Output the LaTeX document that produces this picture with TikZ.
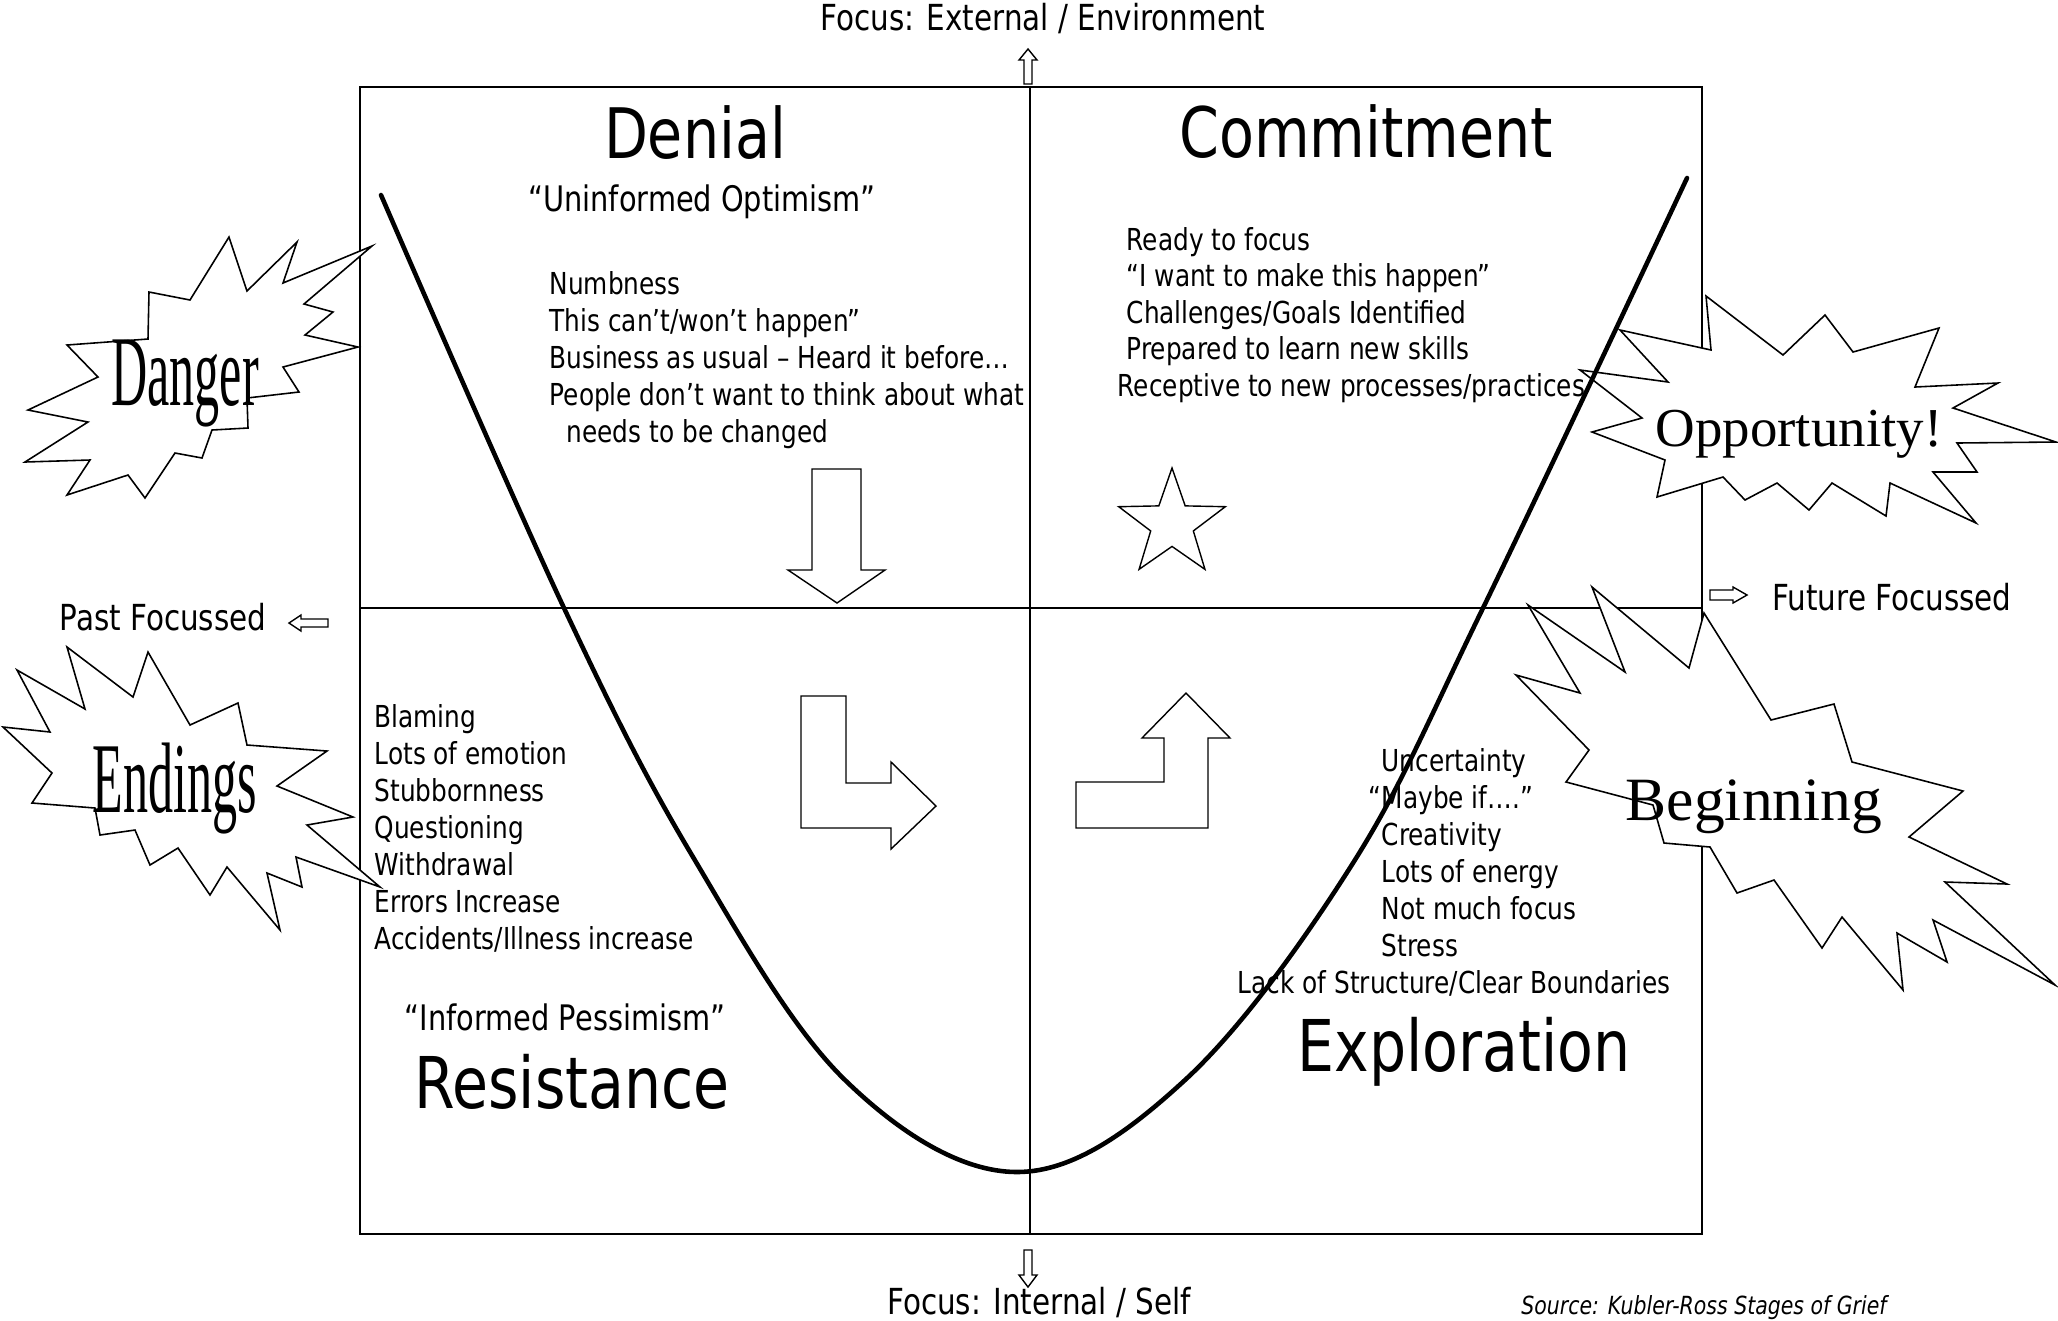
\documentclass[tikz,border=0pt]{standalone}
\usepackage{fontspec}
\setmainfont{DejaVu Sans}[FakeStretch=0.82]
\newfontfamily\bangfont{Liberation Serif}[FakeStretch=0.5]
\newfontfamily\curlfont{Liberation Serif}
\usetikzlibrary{shapes.geometric}

\tikzset{
  quadline/.style={line width=0.6pt},
  changecurve/.style={line width=1.3pt, line cap=round},
  blockarrow/.style={draw, line width=0.4pt, fill=white},
  burst/.style={draw, line width=0.45pt, fill=white, line join=miter},
  stagename/.style={font=\fontsize{19.8}{22}\selectfont, inner sep=0pt, anchor=base},
  motto/.style={font=\fontsize{10}{12}\selectfont, inner sep=0pt, anchor=base},
  listline/.style={font=\fontsize{8.6}{10.5}\selectfont, inner sep=0pt, anchor=base west},
  axislabel/.style={font=\fontsize{10.2}{12}\selectfont, inner sep=0pt, anchor=base},
  bangword/.style={font=\bangfont\fontsize{28.5}{30}\selectfont, inner sep=0pt, anchor=base},
  curlword/.style={font=\curlfont\fontsize{17.5}{20}\selectfont, inner sep=0pt, anchor=base}
}

\begin{document}
\begin{tikzpicture}[x=0.01cm,y=-0.01cm] %[scale=0.8]
      \useasboundingbox (0,0) rectangle (2058,1320);
      % quadrants
      \coordinate (nw) at (360,87);
      \coordinate (se) at (1702,1234);
      \coordinate (top) at (1030,87);
      \coordinate (bot) at (1030,1234);
      \coordinate (west) at (360,608);
      \coordinate (east) at (1702,608);
      \draw [quadline] (nw) rectangle (se);
      \draw [quadline] (top) -- (bot);
      \draw [quadline] (west) -- (east);

      % bursts
      \draw [burst] (229,237) -- (190,300) -- (149,292) -- (148,339) -- (67,345) -- (98,377)
        -- (28,410) -- (88,422) -- (25,462) -- (90,460) -- (67,495) -- (128,475) -- (145,498)
        -- (175,453) -- (202,458) -- (212,430) -- (248,428) -- (247,398) -- (299,392)
        -- (283,367) -- (358,347) -- (305,335) -- (333,312) -- (304,304) -- (372,246)
        -- (283,283) -- (297,242) -- (247,291) -- cycle;
      \draw [burst] (17,670) -- (85,709) -- (67,647) -- (133,697) -- (148,652) -- (190,725)
        -- (238,703) -- (247,745) -- (327,751) -- (277,786) -- (353,817) -- (307,825)
        -- (380,887) -- (296,857) -- (302,887) -- (267,873) -- (280,930) -- (227,867)
        -- (210,895) -- (178,848) -- (150,865) -- (135,830) -- (100,835) -- (95,808)
        -- (32,803) -- (52,773) -- (3,727) -- (50,732) -- cycle;
      \draw [burst] (1706,296) -- (1783,355) -- (1825,315) -- (1853,352) -- (1939,328)
        -- (1915,387) -- (1998,383) -- (1953,408) -- (2056,442) -- (1957,443) -- (1977,472)
        -- (1933,472) -- (1976,523) -- (1890,483) -- (1886,516) -- (1832,483) -- (1809,510)
        -- (1777,483) -- (1745,500) -- (1723,477) -- (1657,497) -- (1665,460) -- (1592,432)
        -- (1642,418) -- (1580,370) -- (1668,382) -- (1620,330) -- (1711,350) -- cycle;
      \draw [burst] (1528,605) -- (1625,672) -- (1592,587) -- (1689,668) -- (1704,613)
        -- (1771,720) -- (1834,704) -- (1852,762) -- (1963,791) -- (1909,837) -- (2007,884)
        -- (1945,882) -- (2055,985) -- (1933,920) -- (1947,962) -- (1897,933) -- (1903,990)
        -- (1842,917) -- (1822,948) -- (1774,880) -- (1737,893) -- (1710,847) -- (1664,843)
        -- (1653,805) -- (1566,782) -- (1589,750) -- (1516,675) -- (1580,693) -- cycle;

      % the change curve
      \draw [changecurve] plot [smooth, tension=0.6] coordinates {(381,195) (564,608)
        (693,857) (845,1080) (1017,1172) (1185,1080) (1353,863) (1483,608) (1687,178)};

      % block arrows and star
      \draw [blockarrow] (812,469) -- (861,469) -- (861,570) -- (885,570) -- (837,603)
        -- (788,570) -- (812,570) -- cycle;
      \draw [blockarrow] (801,696) -- (846,696) -- (846,783) -- (891,783) -- (891,762)
        -- (936,806) -- (891,849) -- (891,828) -- (801,828) -- cycle;
      \draw [blockarrow] (1076,782) -- (1164,782) -- (1164,738) -- (1142,738) -- (1186,693)
        -- (1230,738) -- (1208,738) -- (1208,828) -- (1076,828) -- cycle;
      \node (star) [draw, line width=0.4pt, star, star points=5, star point ratio=2.5,
        minimum size=1.12cm, inner sep=0pt] at (1172,524) {};

      % axis arrows
      \draw [blockarrow] (1028,49) -- (1037,60) -- (1032,60) -- (1032,84) -- (1024,84)
        -- (1024,60) -- (1019,60) -- cycle;
      \draw [blockarrow] (1024,1250) -- (1032,1250) -- (1032,1275) -- (1037,1275)
        -- (1028,1287) -- (1019,1275) -- (1024,1275) -- cycle;
      \draw [blockarrow] (289,623) -- (301,615) -- (301,619) -- (328,619) -- (328,627)
        -- (301,627) -- (301,631) -- cycle;
      \draw [blockarrow] (1710,590) -- (1733,590) -- (1733,587) -- (1747,595) -- (1733,603)
        -- (1733,600) -- (1710,600) -- cycle;

      % axis labels
      \node (ext) [axislabel] at (1043,30) {Focus: External / Environment};
      \node (int) [axislabel] at (1039,1314) {Focus: Internal / Self};
      \node (past) [axislabel] at (163,630) {Past Focussed};
      \node (future) [axislabel] at (1892,610) {Future Focussed};
      \node (src) [axislabel, font=\fontsize{7.1}{9}\selectfont\itshape] at (1704,1314)
        {Source: Kubler-Ross Stages of Grief};

      % burst words
      \node (danger) [bangword] at (185,405) {Danger};
      \node (endings) [bangword] at (175,812) {Endings};
      \node (opp) [curlword, font=\curlfont\fontsize{15.6}{18}\selectfont] at (1799,446) {Opportunity!};
      \node (begin) [curlword] at (1754,820) {Beginning};

      % denial
      \node (denial) [stagename] at (695,158) {Denial};
      \node (optim) [motto] at (702,211) {“Uninformed Optimism”};
      \node (den1) [listline] at (549,294) {Numbness};
      \node (den2) [listline] at (549,331) {This can’t/won’t happen”};
      \node (den3) [listline] at (549,368) {Business as usual – Heard it before…};
      \node (den4) [listline] at (549,405) {People don’t want to think about what};
      \node (den5) [listline] at (566,442) {needs to be changed};

      % commitment
      \node (commit) [stagename] at (1366,157) {Commitment};
      \node (com1) [listline] at (1126,250) {Ready to focus};
      \node (com2) [listline] at (1126,286) {“I want to make this happen”};
      \node (com3) [listline] at (1126,323) {Challenges/Goals Identified};
      \node (com4) [listline] at (1126,359) {Prepared to learn new skills};
      \node (com5) [listline] at (1117,396) {Receptive to new processes/practices};

      % resistance
      \node (res1) [listline] at (374,727) {Blaming};
      \node (res2) [listline] at (374,764) {Lots of emotion};
      \node (res3) [listline] at (374,801) {Stubbornness};
      \node (res4) [listline] at (374,838) {Questioning};
      \node (res5) [listline] at (374,875) {Withdrawal};
      \node (res6) [listline] at (374,912) {Errors Increase};
      \node (res7) [listline] at (374,949) {Accidents/Illness increase};
      \node (pessim) [motto] at (565,1030) {“Informed Pessimism”};
      \node (resist) [stagename, font=\fontsize{20.3}{22}\selectfont] at (572,1108) {Resistance};

      % exploration
      \node (exp1) [listline] at (1381,771) {Uncertainty};
      \node (exp2) [listline] at (1381,808) {\llap{“}Maybe if….”};
      \node (exp3) [listline] at (1381,845) {Creativity};
      \node (exp4) [listline] at (1381,882) {Lots of energy};
      \node (exp5) [listline] at (1381,919) {Not much focus};
      \node (exp6) [listline] at (1381,956) {Stress};
      \node (exp7) [listline] at (1237,993) {Lack of Structure/Clear Boundaries};
      \node (explore) [stagename, font=\fontsize{20.3}{22}\selectfont] at (1464,1071) {Exploration};
    \end{tikzpicture}
\end{document}
